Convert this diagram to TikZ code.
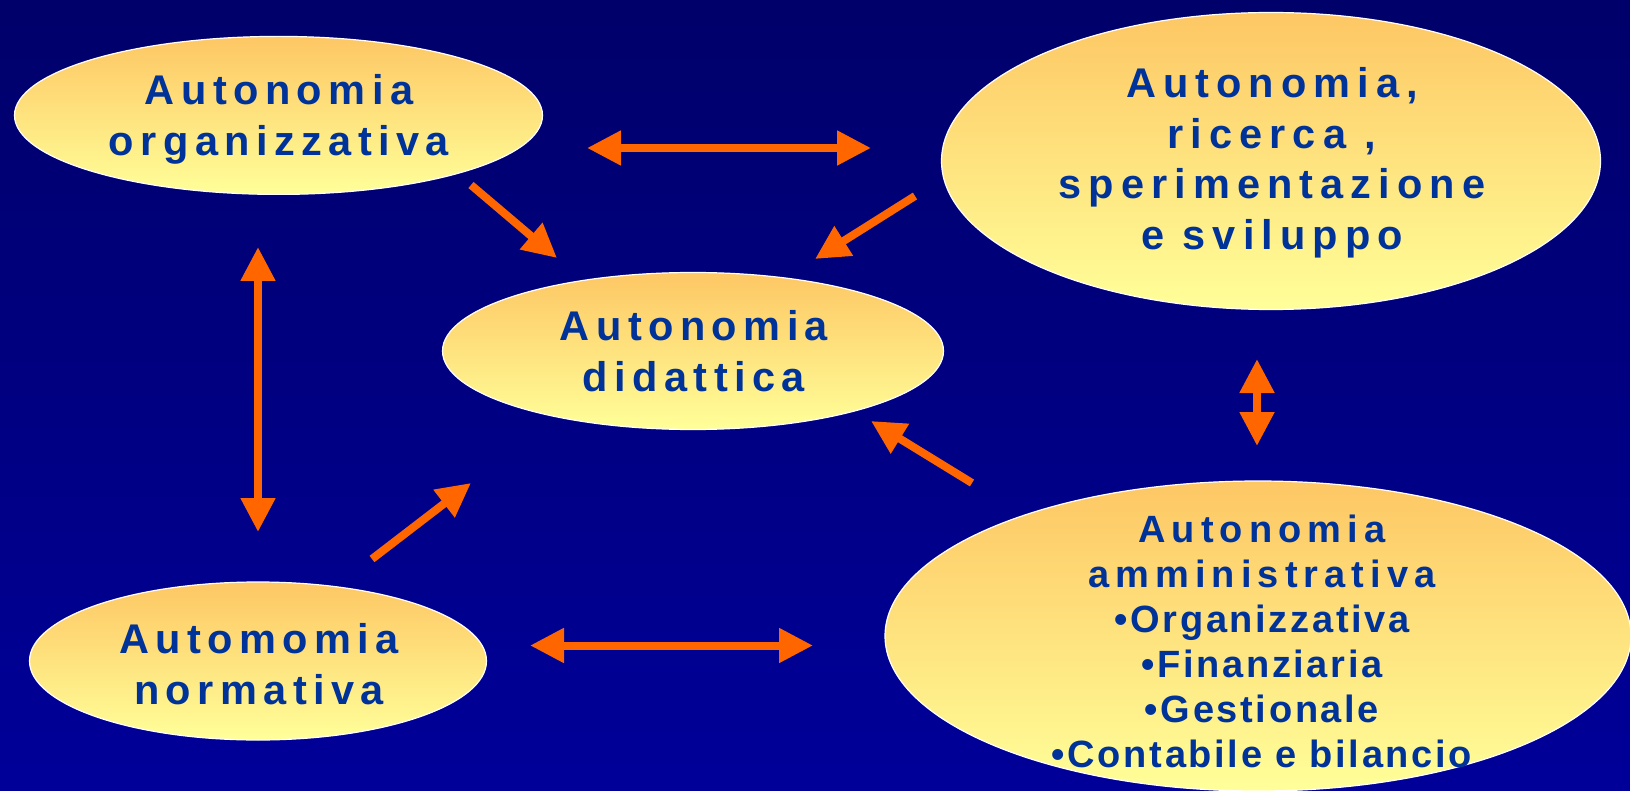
\documentclass[tikz,border=0pt]{standalone}
\usepackage{fontspec}
\setmainfont{Liberation Sans}
\newfontfamily\hdfont[LetterSpace=15.5]{Liberation Sans}
\newfontfamily\hdfontr[LetterSpace=17]{Liberation Sans}
\newfontfamily\hdfontb[LetterSpace=16]{Liberation Sans}
\newfontfamily\blfont[LetterSpace=7]{Liberation Sans}
\usetikzlibrary{shapes.geometric,arrows.meta}
\definecolor{bgtop}{RGB}{0,0,106}
\definecolor{bgbot}{RGB}{0,0,153}
\definecolor{elltop}{RGB}{253,199,100}
\definecolor{ellbot}{RGB}{255,255,153}
\definecolor{txt}{RGB}{0,51,153}
\definecolor{arr}{RGB}{255,102,0}
\begin{document}
\begin{tikzpicture}[x=1pt,y=-1pt,
 bubble/.style={ellipse, draw=white, line width=1.2pt, top color=elltop, bottom color=ellbot, inner sep=0pt},
 lbl/.style={text=txt, align=center, inner sep=0pt, font=\hdfont\bfseries\fontsize{41.5}{51}\selectfont},
 lblr/.style={text=txt, align=center, inner sep=0pt, font=\hdfontr\bfseries\fontsize{41.5}{50.5}\selectfont},
 lblsmall/.style={text=txt, align=center, inner sep=0pt, font=\bfseries\fontsize{38}{45}\selectfont},
 tip/.tip={Triangle[length=34pt,width=33pt]},
 link/.style={draw=arr, line width=8pt, -tip},
 dlink/.style={draw=arr, line width=8pt, tip-tip}]
\useasboundingbox (0,0) rectangle (1630,791);
\shade[top color=bgtop, bottom color=bgbot] (0,0) rectangle (1630,791);

\node[bubble, minimum width=528pt, minimum height=158pt] (org) at (278.5,115.4) {};
\node[bubble, minimum width=659pt, minimum height=297pt] (ric) at (1271,161) {};
\node[bubble, minimum width=501pt, minimum height=157pt] (did) at (693,351) {};
\node[bubble, minimum width=746pt, minimum height=310pt] (amm) at (1258,636) {};
\node[bubble, minimum width=457pt, minimum height=158pt] (nor) at (258,661) {};

\node[lbl] (orgt) at (279,119) {Autonomia\\organizzativa};
\node[lblr] (rict) at (1272,163) {Autonomia,\\ricerca ,\\sperimentazione\\e sviluppo};
\node[lbl] (didt) at (694,351) {Autonomia\\didattica};
\node[lbl] (nort) at (259,664) {Automomia\\normativa};
\node[lblsmall] (ammt) at (1262,641) {{\hdfontb Autonomia}\\{\hdfontb amministrativa}\\{\blfont •Organizzativa}\\{\blfont •Finanziaria}\\{\blfont •Gestionale}\\{\blfont •Contabile e bilancio}};

\coordinate (a1l) at (587,148); \coordinate (a1r) at (871,148);
\coordinate (a2s) at (471,185); \coordinate (a2e) at (557,258);
\coordinate (a3s) at (915,196); \coordinate (a3e) at (815,259);
\coordinate (a4t) at (258,247); \coordinate (a4b) at (258,532);
\coordinate (a5s) at (372,559); \coordinate (a5e) at (471,483);
\coordinate (a6s) at (972,483); \coordinate (a6e) at (871,421);
\coordinate (a7t) at (1257,359); \coordinate (a7b) at (1257,446);
\coordinate (a8l) at (530,645.5); \coordinate (a8r) at (813,645.5);

\draw[dlink] (a1l) -- (a1r);
\draw[link] (a2s) -- (a2e);
\draw[link] (a3s) -- (a3e);
\draw[dlink] (a4t) -- (a4b);
\draw[link] (a5s) -- (a5e);
\draw[link] (a6s) -- (a6e);
\draw[dlink] (a7t) -- (a7b);
\draw[dlink] (a8l) -- (a8r);
\end{tikzpicture}
\end{document}
